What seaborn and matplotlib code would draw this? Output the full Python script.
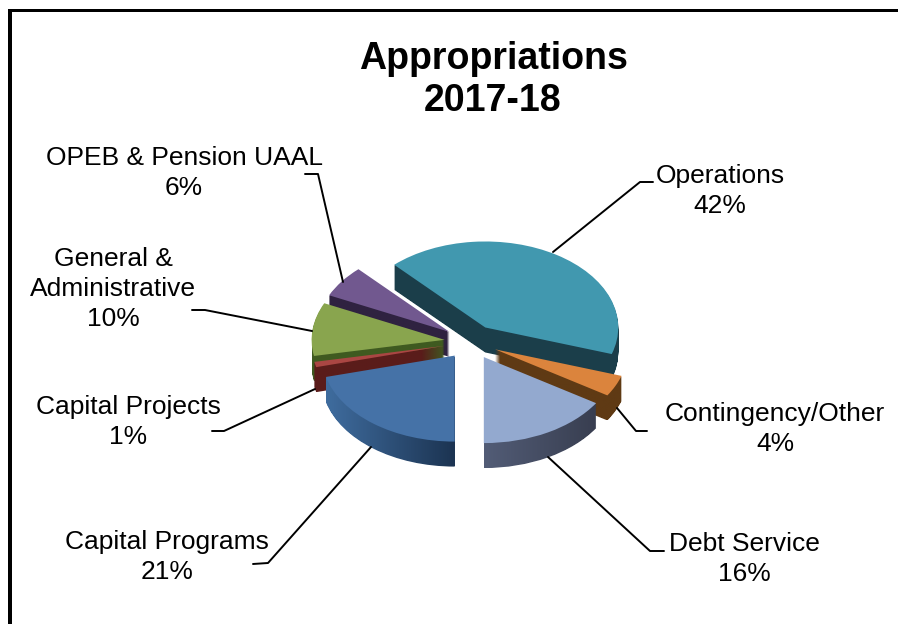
import numpy as np
import matplotlib
matplotlib.use("Agg")
import matplotlib.pyplot as plt
import seaborn as sns
from matplotlib.lines import Line2D
from matplotlib.patches import PathPatch, Rectangle
from matplotlib.path import Path
from matplotlib.colors import LinearSegmentedColormap

sns.set_theme(style="white")
plt.rcParams['font.family'] = ['Liberation Sans', 'DejaVu Sans']

categories = ['Operations', 'Contingency/Other', 'Debt Service', 'Capital Programs',
              'Capital Projects', 'General &\nAdministrative', 'OPEB & Pension UAAL']
values = [42, 4, 16, 21, 1, 10, 6]
top_colors = ['#4198AF', '#DB843D', '#93A9CF', '#4572A7', '#AA4643', '#89A54E', '#71588F']
rim_left = ['#1B3E4A', '#5F3A14', '#525C76', '#3F6C9E', '#5A1C1A', '#3F5A20', '#2F2240']
rim_right = ['#1B3E4A', '#5F3A14', '#383E50', '#1C3452', '#5A1C1A', '#3F5A20', '#2F2240']
# back to front
draw_order = [0, 6, 5, 4, 3, 1, 2]

W, H = 898, 624
# pixels per pie unit, the pie is tilted so y is squashed
sx, sy = 133, 86
cx, cy = 471, 342
depth = 25

fig = plt.figure(figsize=(W / 100, H / 100), dpi=100, facecolor='white')
ax = fig.add_axes([0, 0, 1, 1])
xlim = (-cx / sx, (W - cx) / sx)
ylim = ((cy - H) / sy, cy / sy)


def fx(px):
    return px / W


def fy(py):
    return 1 - py / H


def draw_pie(y0, colors):
    wedges, _ = ax.pie(values, colors=colors, explode=[0.2] * len(values), startangle=133.2,
                       counterclock=False, radius=1, center=(0, y0))
    return wedges


for rank, i in enumerate(draw_order):
    # side of the slice, stack of shifted copies with a left to right shade
    paths = []
    for k in range(depth, 0, -1):
        w = draw_pie(-k / sy, ['none'] * len(values))[i]
        paths.append(w.get_path().transformed(w.get_patch_transform()))
        for other in ax.patches[-len(values):]:
            other.remove()
    rim = Path.make_compound_path(*paths)
    cmap = LinearSegmentedColormap.from_list('rim', [rim_left[i], rim_right[i]])
    box = rim.get_extents()
    im = ax.imshow(np.linspace(0, 1, 64).reshape(1, -1), cmap=cmap, aspect='auto',
                   extent=(box.x0, box.x1, box.y0, box.y1), zorder=rank * 2 + 1)
    im.set_clip_path(PathPatch(rim, transform=ax.transData))
    # top of the slice
    wedges = draw_pie(0, top_colors)
    for j, w in enumerate(wedges):
        if j == i:
            w.set_zorder(rank * 2 + 2)
            w.set_linewidth(0)
        else:
            w.remove()

ax.set_aspect('auto')
ax.set_xlim(xlim)
ax.set_ylim(ylim)
ax.axis('off')

# frame, only left and top are in the picture
fig.add_artist(Rectangle((fx(8), fy(9) - 3 / H), (W - 8) / W, 3 / H, transform=fig.transFigure,
                         facecolor='black', edgecolor='none'))
fig.add_artist(Rectangle((fx(8), 0), 4 / W, fy(9), transform=fig.transFigure,
                         facecolor='black', edgecolor='none'))

fig.text(fx(493), fy(80), 'Appropriations\n2017-18', ha='center', va='center', fontsize=27,
         fontweight='bold', color='black', linespacing=1.24)

label_text = ['Operations\n42%', 'Contingency/Other\n4%', 'Debt Service\n16%', 'Capital Programs\n21%',
              'Capital Projects\n1%', 'General &\nAdministrative\n10%', 'OPEB & Pension UAAL\n6%']
label_xy = [(720, 191), (775, 429), (744, 559), (167, 557), (128, 422), (113, 289), (184, 173)]
leaders = [[(553, 252), (640, 182), (653, 182)],
           [(617, 408), (636, 431), (647, 431)],
           [(548, 457), (650, 551), (664, 551)],
           [(371, 447), (268, 563), (253, 564)],
           [(315, 389), (224, 431), (212, 431)],
           [(312, 331), (205, 310), (192, 310)],
           [(343, 282), (318, 174), (305, 174)]]

for txt, (tx, ty), pts in zip(label_text, label_xy, leaders):
    fig.text(fx(tx), fy(ty), txt, ha='center', va='center', fontsize=19, color='black', linespacing=1.3)
    fig.add_artist(Line2D([fx(p[0]) for p in pts], [fy(p[1]) for p in pts], transform=fig.transFigure,
                          color='black', lw=1.4))

fig.savefig('out.png', dpi=100)
